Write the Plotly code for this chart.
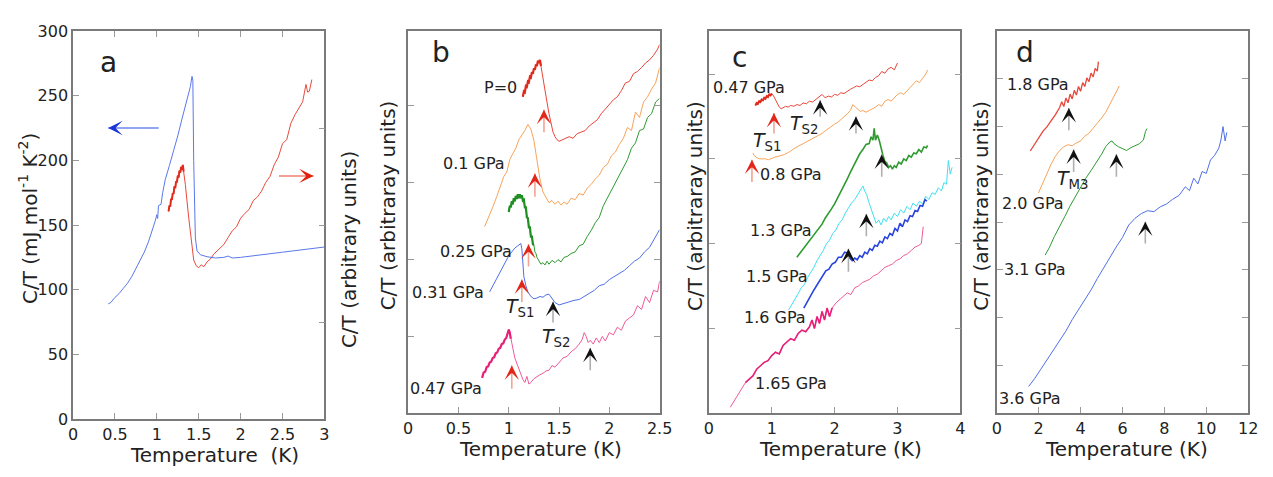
import plotly.graph_objects as go

# ---------------- DATA ----------------
a_blue_T = [0.42,0.45,0.5,0.55,0.6,0.65,0.7,0.75,0.8,0.85,0.9,0.95,0.98,1.0,1.01,1.02,1.05,1.07,1.1,1.15,1.2,1.25,1.3,1.35,1.4,1.42,1.43,1.44,1.46,1.48,1.52,1.6,1.7,1.8,1.85,1.9,2.0,2.5,3.0]
a_blue_v = [89,90,94,97,101,105,110,116,122,129,137,146,153,158,155,165,166,175,185,196,207,219,232,245,257,265,262,200,140,130,127,125.5,124.5,125,126,124.5,125,129,133]
a_red_T = [1.14,1.15,1.16,1.17,1.18,1.19,1.20,1.21,1.22,1.23,1.24,1.25,1.26,1.27,1.28,1.29,1.30,1.31,1.32,
           1.34,1.38,1.41,1.44,1.47,1.5,1.53,1.56,1.6,1.64,1.68,1.72,1.76,1.8,1.85,1.9,1.95,2.0,2.05,2.1,2.15,2.2,2.25,2.3,2.35,2.4,2.45,2.5,2.55,2.6,2.65,2.7,2.74,2.78,2.8,2.82,2.85]
a_red_v = [2.14,2.20,2.19,2.27,2.26,2.33,2.32,2.40,2.38,2.45,2.44,2.51,2.49,2.56,2.54,2.60,2.57,2.62,2.55,
           2.42,2.08,1.85,1.64,1.58,1.56,1.59,1.57,1.62,1.65,1.70,1.73,1.76,1.80,1.87,1.94,1.98,2.07,2.12,2.16,2.25,2.29,2.35,2.44,2.50,2.62,2.70,2.84,2.88,3.05,3.14,3.22,3.27,3.45,3.37,3.38,3.50]

b_labels = ["P=0", "0.1 GPa", "0.25 GPa", "0.31 GPa", "0.47 GPa"]
b0_T = [1.14,1.15,1.16,1.17,1.18,1.19,1.20,1.21,1.22,1.23,1.24,1.25,1.26,1.27,1.28,1.29,1.30,1.31,1.32,1.34,1.36,1.38,1.40,1.42,1.44,1.46,1.48,1.50,1.53,1.56,1.60,1.64,1.68,1.72,1.76,1.80,1.84,1.88,1.92,1.96,2.0,2.04,2.08,2.12,2.16,2.2,2.24,2.28,2.32,2.36,2.40,2.44,2.48,2.5]
b0_v = [4.12,4.19,4.18,4.26,4.25,4.32,4.31,4.38,4.37,4.44,4.42,4.49,4.47,4.54,4.52,4.59,4.56,4.60,4.52,4.38,4.22,4.05,3.90,3.76,3.66,3.60,3.56,3.54,3.56,3.58,3.60,3.58,3.64,3.66,3.68,3.74,3.78,3.82,3.90,3.96,4.01,4.08,4.12,4.20,4.30,4.32,4.42,4.45,4.50,4.56,4.60,4.66,4.74,4.80]
b1_T = [0.76,0.80,0.84,0.88,0.92,0.95,0.98,1.01,1.04,1.07,1.10,1.13,1.16,1.19,1.22,1.25,1.28,1.31,1.34,1.37,1.40,1.43,1.46,1.49,1.52,1.55,1.58,1.62,1.66,1.70,1.74,1.78,1.82,1.86,1.90,1.94,1.98,2.02,2.06,2.10,2.14,2.18,2.22,2.26,2.30,2.34,2.38,2.42,2.46,2.5]
b1_v = [2.43,2.55,2.68,2.82,2.98,3.08,3.14,3.30,3.38,3.45,3.56,3.62,3.68,3.76,3.70,3.55,3.30,3.05,2.88,2.80,2.74,2.77,2.72,2.76,2.71,2.75,2.72,2.80,2.78,2.86,2.84,2.93,2.98,3.05,3.10,3.20,3.24,3.35,3.40,3.50,3.58,3.72,3.68,3.92,3.85,4.05,4.12,4.22,4.30,4.50]
b2_T = [1.00,1.01,1.02,1.03,1.04,1.05,1.06,1.07,1.08,1.09,1.10,1.11,1.12,1.13,1.14,1.15,1.16,1.17,1.18,1.19,1.20,1.21,1.22,1.23,1.24,1.25,1.26,1.27,1.28,1.30,1.32,1.34,1.36,1.38,1.40,1.43,1.46,1.49,1.52,1.55,1.58,1.62,1.66,1.70,1.74,1.78,1.82,1.86,1.90,1.94,1.98,2.02,2.06,2.10,2.14,2.18,2.22,2.26,2.30,2.34,2.38,2.42,2.46,2.50]
b2_v = [2.62,2.70,2.68,2.76,2.72,2.80,2.76,2.83,2.79,2.85,2.80,2.85,2.80,2.84,2.77,2.78,2.68,2.68,2.55,2.54,2.42,2.42,2.30,2.30,2.20,2.19,2.10,2.08,2.03,1.98,1.94,1.96,1.93,1.98,1.94,1.99,1.96,2.00,1.97,2.03,2.04,2.08,2.10,2.18,2.20,2.30,2.38,2.48,2.55,2.70,2.80,2.92,3.00,3.12,3.22,3.30,3.45,3.52,3.68,3.70,3.85,3.90,4.05,4.10]
b3_T = [0.81,0.85,0.89,0.93,0.97,1.00,1.03,1.06,1.09,1.12,1.13,1.14,1.15,1.17,1.19,1.22,1.25,1.28,1.31,1.34,1.37,1.40,1.43,1.46,1.50,1.55,1.60,1.65,1.70,1.75,1.80,1.85,1.90,1.95,2.0,2.05,2.1,2.15,2.2,2.25,2.3,2.35,2.4,2.45,2.5]
b3_v = [1.58,1.68,1.78,1.88,1.98,2.05,2.10,2.15,2.18,2.21,2.14,1.92,1.78,1.66,1.58,1.52,1.49,1.50,1.52,1.51,1.54,1.55,1.50,1.44,1.41,1.43,1.45,1.47,1.48,1.52,1.57,1.60,1.66,1.68,1.74,1.78,1.82,1.86,1.92,1.98,2.02,2.10,2.16,2.28,2.39]
b4_T = [0.735,0.75,0.765,0.78,0.795,0.81,0.825,0.84,0.855,0.87,0.885,0.90,0.915,0.93,0.945,0.96,0.975,0.99,1.00,1.01,1.02,1.04,1.06,1.08,1.10,1.12,1.14,1.16,1.18,1.20,1.22,1.25,1.28,1.31,1.34,1.37,1.40,1.43,1.46,1.50,1.54,1.58,1.62,1.66,1.70,1.73,1.75,1.77,1.79,1.81,1.84,1.87,1.90,1.93,1.96,2.0,2.04,2.08,2.12,2.16,2.2,2.24,2.28,2.32,2.36,2.40,2.44,2.48,2.5]
b4_v = [0.46,0.53,0.54,0.60,0.61,0.66,0.67,0.72,0.73,0.78,0.79,0.84,0.85,0.90,0.91,0.96,0.98,1.04,1.09,1.05,0.97,0.85,0.72,0.65,0.58,0.50,0.44,0.40,0.48,0.38,0.40,0.45,0.48,0.50,0.52,0.55,0.56,0.62,0.60,0.66,0.72,0.74,0.80,0.84,0.90,0.96,1.05,1.00,0.92,0.95,0.90,0.98,0.92,1.00,0.94,1.05,1.02,1.12,1.08,1.20,1.24,1.28,1.40,1.35,1.52,1.44,1.60,1.58,1.72]
b_arrow_T    = [1.35, 1.26, 1.196, 1.13, 1.44, 1.03, 1.81]
b_arrow_tip  = [3.95, 3.12, 2.20, 1.74, 1.45, 0.62, 0.85]
b_arrow_tail = [3.64, 2.80, 1.89, 1.43, 1.16, 0.30, 0.54]
b_arrow_kind = ["S1", "S1", "S1", "S1", "S2", "S1", "S2"]

c_labels = ["0.47 GPa", "0.8 GPa", "1.3 GPa", "1.5 GPa", "1.6 GPa", "1.65 GPa"]
c0_T = [0.74,0.76,0.78,0.80,0.82,0.84,0.86,0.88,0.90,0.92,0.94,0.96,0.98,1.00,1.03,1.06,1.09,1.12,1.15,1.18,1.22,1.26,1.30,1.35,1.40,1.45,1.50,1.55,1.60,1.65,1.70,1.75,1.80,1.85,1.90,1.95,2.0,2.05,2.1,2.15,2.2,2.25,2.3,2.35,2.4,2.45,2.5,2.55,2.6,2.65,2.7,2.75,2.8,2.85,2.9,2.95,3.0]
c0_v = [3.63,3.66,3.65,3.68,3.67,3.70,3.69,3.72,3.71,3.74,3.73,3.76,3.75,3.77,3.74,3.69,3.65,3.61,3.59,3.60,3.62,3.61,3.63,3.62,3.64,3.63,3.66,3.65,3.68,3.67,3.70,3.74,3.76,3.72,3.74,3.73,3.76,3.75,3.78,3.77,3.80,3.82,3.84,3.86,3.85,3.88,3.90,3.93,3.92,3.96,3.98,4.03,4.01,4.06,4.08,4.05,4.13]
c1_T = [0.70,0.72,0.75,0.80,0.85,0.90,0.95,1.00,1.05,1.10,1.15,1.20,1.25,1.30,1.35,1.40,1.45,1.50,1.55,1.60,1.65,1.70,1.75,1.80,1.85,1.90,1.95,2.0,2.05,2.1,2.15,2.2,2.25,2.29,2.33,2.37,2.41,2.45,2.5,2.55,2.6,2.65,2.7,2.75,2.8,2.85,2.9,2.95,3.0,3.05,3.1,3.15,3.2,3.25,3.3,3.35,3.4,3.45,3.48]
c1_v = [3.07,3.04,3.02,3.00,3.00,3.00,2.99,3.01,3.02,3.03,3.04,3.05,3.07,3.09,3.12,3.14,3.16,3.18,3.20,3.22,3.24,3.26,3.28,3.30,3.33,3.36,3.38,3.41,3.43,3.46,3.50,3.53,3.57,3.64,3.61,3.58,3.56,3.57,3.55,3.57,3.59,3.61,3.64,3.62,3.68,3.70,3.68,3.72,3.76,3.78,3.76,3.80,3.84,3.88,3.92,3.90,3.95,4.00,4.05]
c2_T = [1.40,1.45,1.50,1.55,1.60,1.65,1.70,1.75,1.80,1.85,1.90,1.95,2.0,2.05,2.1,2.15,2.2,2.25,2.3,2.35,2.4,2.45,2.5,2.55,2.58,2.61,2.63,2.65,2.68,2.71,2.74,2.77,2.80,2.83,2.86,2.89,2.92,2.95,2.98,3.02,3.06,3.10,3.14,3.18,3.22,3.26,3.30,3.34,3.38,3.42,3.46,3.48]
c2_v = [1.84,1.89,1.94,1.99,2.04,2.09,2.13,2.19,2.23,2.30,2.35,2.41,2.47,2.54,2.61,2.68,2.76,2.84,2.91,2.99,3.06,3.11,3.17,3.18,3.26,3.22,3.36,3.22,3.28,3.22,3.12,3.04,2.97,2.95,2.90,2.92,2.88,2.92,2.90,2.96,2.94,3.00,2.98,3.04,3.02,3.07,3.06,3.11,3.08,3.14,3.13,3.16]
c3_T = [1.27,1.32,1.37,1.42,1.47,1.52,1.57,1.62,1.67,1.72,1.77,1.82,1.87,1.92,1.97,2.02,2.07,2.12,2.17,2.22,2.27,2.32,2.37,2.42,2.45,2.48,2.51,2.54,2.57,2.60,2.63,2.66,2.70,2.74,2.78,2.82,2.86,2.90,2.95,3.0,3.05,3.1,3.15,3.2,3.25,3.3,3.35,3.4,3.45,3.5,3.55,3.6,3.65,3.7,3.74,3.78,3.81,3.84,3.87]
c3_v = [1.22,1.28,1.35,1.41,1.48,1.52,1.60,1.66,1.72,1.80,1.86,1.92,2.00,2.04,2.12,2.16,2.24,2.28,2.36,2.42,2.48,2.52,2.58,2.64,2.68,2.62,2.58,2.50,2.44,2.36,2.30,2.24,2.28,2.22,2.30,2.26,2.32,2.28,2.36,2.32,2.40,2.36,2.44,2.40,2.48,2.44,2.50,2.47,2.56,2.52,2.60,2.58,2.66,2.62,2.72,2.70,2.98,2.82,2.90]
c4_T = [1.51,1.56,1.61,1.66,1.71,1.76,1.81,1.86,1.91,1.96,2.01,2.06,2.11,2.16,2.20,2.24,2.28,2.32,2.36,2.40,2.44,2.48,2.52,2.56,2.60,2.64,2.68,2.72,2.76,2.80,2.84,2.88,2.92,2.96,3.00,3.04,3.08,3.12,3.16,3.20,3.24,3.28,3.32,3.36,3.40,3.44,3.47]
c4_v = [1.24,1.31,1.37,1.44,1.50,1.56,1.61,1.68,1.70,1.76,1.78,1.84,1.84,1.90,1.89,1.83,1.80,1.83,1.81,1.86,1.84,1.90,1.88,1.94,1.92,1.98,1.97,2.03,2.01,2.08,2.06,2.12,2.10,2.18,2.15,2.24,2.20,2.28,2.26,2.33,2.32,2.39,2.38,2.45,2.44,2.52,2.50]
c5_T = [0.34,0.40,0.46,0.52,0.58,0.64,0.70,0.76,0.82,0.88,0.94,1.00,1.06,1.12,1.18,1.24,1.30,1.36,1.42,1.48,1.54,1.60,1.64,1.68,1.72,1.76,1.80,1.84,1.88,1.92,1.96,2.02,2.08,2.14,2.20,2.26,2.32,2.38,2.44,2.50,2.56,2.62,2.68,2.74,2.80,2.86,2.92,2.98,3.04,3.10,3.16,3.22,3.28,3.34,3.38,3.41]
c5_v = [0.07,0.14,0.22,0.28,0.36,0.40,0.44,0.52,0.56,0.60,0.62,0.68,0.72,0.70,0.80,0.84,0.88,0.86,0.94,0.98,0.96,1.02,1.10,1.00,1.14,1.06,1.20,1.10,1.24,1.14,1.24,1.30,1.34,1.38,1.42,1.40,1.48,1.50,1.54,1.56,1.58,1.62,1.64,1.68,1.72,1.74,1.76,1.80,1.82,1.86,1.88,1.92,1.96,1.98,2.00,2.20]
c_arrow_T    = [1.035, 1.77, 2.34, 0.685, 2.75, 2.505, 2.22]
c_arrow_tip  = [3.54, 3.69, 3.50, 2.99, 3.05, 2.35, 1.94]
c_arrow_tail = [3.28, 3.48, 3.28, 2.71, 2.77, 2.07, 1.65]
c_arrow_kind = ["S1", "S2", "S2", "S1", "S2", "S2", "S2"]

d_labels = ["1.8 GPa", "2.0 GPa", "3.1 GPa", "3.6 GPa"]
d0_T = [1.6,1.8,2.0,2.2,2.4,2.6,2.8,3.0,3.1,3.2,3.3,3.4,3.5,3.6,3.7,3.8,3.9,4.0,4.1,4.2,4.3,4.4,4.5,4.6,4.7,4.8,4.85]
d0_v = [5.49,5.62,5.76,5.90,6.00,6.12,6.25,6.40,6.52,6.42,6.60,6.50,6.68,6.58,6.76,6.66,6.84,6.74,6.92,6.84,7.02,6.94,7.12,7.04,7.22,7.16,7.36]
d1_T = [1.99,2.2,2.4,2.6,2.8,3.0,3.2,3.4,3.6,3.8,4.0,4.2,4.4,4.6,4.8,5.0,5.2,5.4,5.6,5.8,5.85]
d1_v = [4.61,4.82,5.02,5.22,5.38,5.50,5.58,5.62,5.60,5.66,5.70,5.80,5.86,5.96,6.06,6.18,6.30,6.46,6.62,6.80,6.85]
d2_T = [2.31,2.5,2.75,3.0,3.25,3.5,3.75,4.0,4.25,4.5,4.75,5.0,5.2,5.4,5.5,5.6,5.8,6.0,6.2,6.4,6.6,6.8,7.0,7.1,7.17]
d2_v = [3.31,3.46,3.70,3.90,4.12,4.34,4.54,4.74,4.92,5.08,5.24,5.42,5.58,5.68,5.70,5.64,5.58,5.54,5.50,5.56,5.60,5.64,5.72,5.90,5.96]
d3_T = [1.52,1.8,2.1,2.4,2.7,3.0,3.3,3.6,3.9,4.2,4.5,4.8,5.1,5.4,5.7,6.0,6.3,6.6,6.9,7.2,7.5,7.8,8.1,8.4,8.7,9.0,9.2,9.4,9.6,9.8,10.0,10.2,10.4,10.6,10.7,10.8,10.9,10.98]
d3_v = [0.56,0.72,0.92,1.12,1.32,1.52,1.72,1.96,2.16,2.38,2.58,2.82,3.04,3.28,3.48,3.68,3.94,4.08,4.18,4.24,4.22,4.32,4.38,4.48,4.56,4.74,4.66,4.92,4.80,5.06,5.02,5.30,5.40,5.55,5.72,6.00,5.70,5.88]
d_arrow_T    = [3.44, 3.67, 5.71, 7.09]
d_arrow_tip  = [6.39, 5.52, 5.42, 4.01]
d_arrow_tail = [5.89, 5.02, 4.92, 3.52]

# ---------------- STYLE ----------------
FONT = "DejaVu Sans"
TXT = "#222222"
RED, ORANGE, GREEN, BLUE, PINK, CYAN = "#e8463a", "#f7a35a", "#2e9a30", "#4f6fe8", "#ee5a98", "#3fe0ee"
DBLUE = "#2a45dd"

W, H = 1273, 477
def px2x(p): return p / W
def px2y(p): return 1 - p / H
def xdom(a, b): return [px2x(a), px2x(b)]
def ydom(top, bottom): return [px2y(bottom), px2y(top)]

fig = go.Figure()

def line(xa, ya, T, v, color, width=1.0):
    fig.add_trace(go.Scatter(x=T, y=v, mode="lines", xaxis=xa, yaxis=ya,
                             line=dict(color=color, width=width), showlegend=False, hoverinfo="skip"))

line("x", "y", a_blue_T, a_blue_v, "#5a78ea", 1.0)
line("x", "y2", a_red_T, a_red_v, "#e84a3c", 1.0)
line("x", "y2", a_red_T[:19], a_red_v[:19], "#e02a1c", 2.0)
for T, v, c in [(b0_T, b0_v, RED), (b1_T, b1_v, ORANGE), (b2_T, b2_v, GREEN), (b3_T, b3_v, BLUE), (b4_T, b4_v, PINK)]:
    line("x2", "y3", T, v, c)
line("x2", "y3", b0_T[:19], b0_v[:19], "#e02a1c", 2.2)
line("x2", "y3", b2_T[:26], b2_v[:26], "#1f8f22", 2.2)
line("x2", "y3", b4_T[:21], b4_v[:21], "#e81f78", 2.2)
for T, v, c, w in [(c0_T, c0_v, RED, 1.0), (c1_T, c1_v, ORANGE, 1.0), (c2_T, c2_v, GREEN, 1.6),
                   (c3_T, c3_v, CYAN, 1.0), (c4_T, c4_v, DBLUE, 1.6), (c5_T, c5_v, PINK, 1.0)]:
    line("x3", "y4", T, v, c, w)
line("x3", "y4", c0_T[:14], c0_v[:14], "#e02a1c", 2.0)
line("x3", "y4", c5_T[4:31], c5_v[4:31], "#e81f78", 1.6)
for T, v, c, w in [(d0_T, d0_v, RED, 1.3), (d1_T, d1_v, ORANGE, 1.0), (d2_T, d2_v, GREEN, 1.0), (d3_T, d3_v, BLUE, 1.0)]:
    line("x4", "y5", T, v, c, w)

def varrow(xr, yr, T, tip, tail, kind):
    shaft = "#f4a394" if kind == "S1" else "#b0b0b0"
    head = "#e2261a" if kind == "S1" else "#111111"
    fig.add_annotation(x=T, y=tip, ax=T, ay=tail, xref=xr, yref=yr, axref=xr, ayref=yr,
                       showarrow=True, arrowhead=0, arrowwidth=1.6, arrowcolor=shaft, text="")
    fig.add_annotation(x=T, y=tip, ax=0, ay=8, xref=xr, yref=yr,
                       showarrow=True, arrowhead=3, arrowsize=1.6, arrowwidth=1.5, arrowcolor=head, text="")

for T, t1, t2, k in zip(b_arrow_T, b_arrow_tip, b_arrow_tail, b_arrow_kind):
    varrow("x2", "y3", T, t1, t2, k)
for T, t1, t2, k in zip(c_arrow_T, c_arrow_tip, c_arrow_tail, c_arrow_kind):
    varrow("x3", "y4", T, t1, t2, k)
for T, t1, t2 in zip(d_arrow_T, d_arrow_tip, d_arrow_tail):
    varrow("x4", "y5", T, t1, t2, "S2")

for (x0, x1, yv, shaft, head, dx) in [(1.04, 0.42, 225, "#6d88f0", "#1a36d8", 8), (2.44, 2.87, 188, "#f08070", "#e0200f", -8)]:
    fig.add_annotation(x=x1, y=yv, ax=x0, ay=yv, xref="x", yref="y", axref="x", ayref="y",
                       showarrow=True, arrowhead=0, arrowwidth=1.5, arrowcolor=shaft, text="")
    fig.add_annotation(x=x1, y=yv, ax=dx, ay=0, xref="x", yref="y",
                       showarrow=True, arrowhead=3, arrowsize=1.6, arrowwidth=1.5, arrowcolor=head, text="")

def txt(xr, yr, x, y, s, size=16, xanchor="center"):
    fig.add_annotation(x=x, y=y, xref=xr, yref=yr, text=s, showarrow=False,
                       font=dict(family=FONT, size=size, color=TXT), xanchor=xanchor, yanchor="middle")

TS1 = "<i>T</i><sub>S1</sub>"
TS2 = "<i>T</i><sub>S2</sub>"
TM3 = "<i>T</i><sub>M3</sub>"

txt("x", "y", 0.42, 276, "a", 28)
txt("x2", "y3", 0.33, 4.70, "b", 28)
txt("x3", "y4", 0.49, 4.20, "c", 28)
txt("x4", "y5", 1.36, 7.55, "d", 28)

for (T, v), s in zip([(0.92, 4.24), (0.65, 3.25), (0.67, 2.11), (0.40, 1.575), (0.38, 0.325)], b_labels):
    txt("x2", "y3", T, v, s)
txt("x2", "y3", 1.12, 1.37, TS1, 19)
txt("x2", "y3", 1.47, 0.99, TS2, 19)
for (T, v), s in zip([(0.64, 3.84), (1.30, 2.81), (1.15, 2.15), (1.08, 1.61), (1.05, 1.13), (1.30, 0.35)], c_labels):
    txt("x3", "y4", T, v, s)
txt("x3", "y4", 0.94, 3.20, TS1, 19)
txt("x3", "y4", 1.52, 3.41, TS2, 19)
for (T, v), s in zip([(1.98, 6.88), (1.74, 4.39), (1.84, 3.00), (1.60, 0.30)], d_labels):
    txt("x4", "y5", T, v, s)
txt("x4", "y5", 3.62, 4.90, TM3, 19)

def ptxt(px, py, s, size=20, angle=0):
    fig.add_annotation(x=px2x(px), y=px2y(py), xref="paper", yref="paper", text=s, showarrow=False,
                       textangle=angle, font=dict(family=FONT, size=size, color=TXT),
                       xanchor="center", yanchor="middle")

ptxt(212, 465, "Temperature  (K)")
ptxt(543, 458, "Temperature (K)")
ptxt(847, 458, "Temperature (K)")
ptxt(1138, 458, "Temperature (K)")
ptxt(24, 218, "C/T (mJ mol<sup>-1</sup> K<sup>-2</sup>)", 20, -90)
ptxt(388, 205, "C/T (arbitraray units)", 20, -90)
ptxt(349, 250, "C/T (arbitrary units)", 20, -90)
ptxt(700, 205, "C/T (arbitraray units)", 20, -90)
ptxt(990, 205, "C/T (arbitraray units)", 20, -90)

axis_common = dict(showline=True, linecolor="#7a7a7a", linewidth=1.5, ticks="inside", ticklen=6,
                   tickcolor="#9a9a9a", tickwidth=1.2, showgrid=False, zeroline=False,
                   tickfont=dict(family=FONT, size=16, color=TXT))

fig.update_layout(
    width=W, height=H, margin=dict(l=0, r=0, t=0, b=0),
    paper_bgcolor="white", plot_bgcolor="white", showlegend=False,
    xaxis=dict(domain=xdom(69, 324), range=[0, 3], tickvals=[0, 0.5, 1, 1.5, 2, 2.5, 3],
               ticktext=["0", "0.5", "1", "1.5", "2", "2.5", "3"], mirror="ticks", anchor="y", **axis_common),
    yaxis=dict(domain=ydom(23, 427), range=[0, 300], tickvals=[0, 50, 100, 150, 200, 250, 300], mirror=True,
               anchor="x", **axis_common),
    yaxis2=dict(overlaying="y", side="right", range=[0, 4], tickvals=[1, 2, 3], showticklabels=False,
                anchor="x", **axis_common),
    xaxis2=dict(domain=xdom(409, 664), range=[0, 2.5], tickvals=[0, 0.5, 1, 1.5, 2, 2.5],
                ticktext=["0", "0.5", "1", "1.5", "2", "2.5"], mirror=True, anchor="y3", **axis_common),
    yaxis3=dict(domain=ydom(23, 421), range=[0, 4.975], tickvals=[1, 2, 3, 4], showticklabels=False,
                mirror="ticks", anchor="x2", **axis_common),
    xaxis3=dict(domain=xdom(714, 969), range=[0, 4], tickvals=[0, 1, 2, 3, 4], mirror=True,
                anchor="y4", **axis_common),
    yaxis4=dict(domain=ydom(23, 421), range=[0, 4.507], tickvals=[1, 2, 3, 4], showticklabels=False,
                mirror="ticks", anchor="x3", **axis_common),
    xaxis4=dict(domain=xdom(1006, 1261), range=[0, 12], tickvals=[0, 2, 4, 6, 8, 10, 12], mirror=True,
                anchor="y5", **axis_common),
    yaxis5=dict(domain=ydom(23, 421), range=[0, 8.0], tickvals=[1, 2, 3, 4, 5, 6, 7], showticklabels=False,
                mirror="ticks", anchor="x4", **axis_common),
)

fig.write_html("out.html")
